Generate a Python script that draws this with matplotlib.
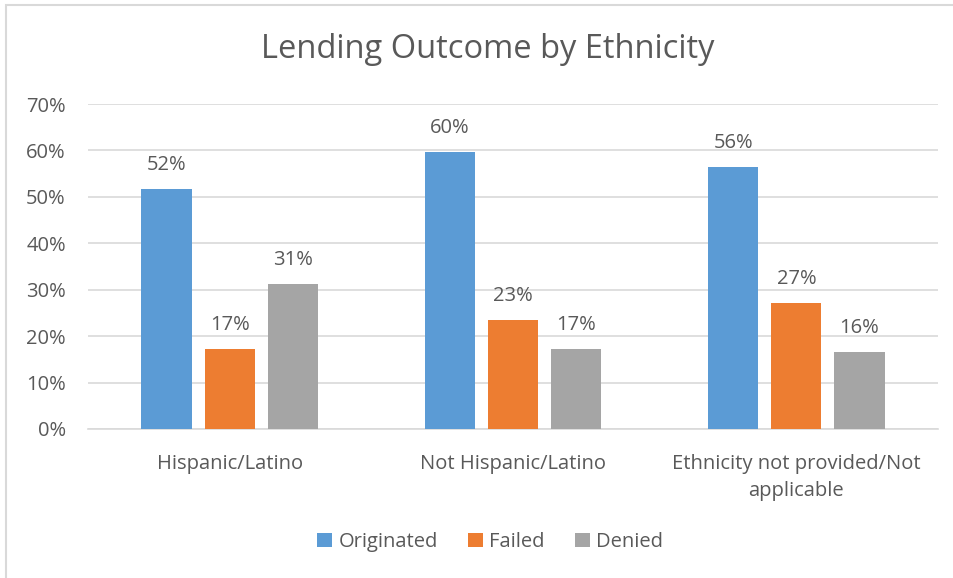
import matplotlib
matplotlib.use("Agg")

import numpy as np
import matplotlib.pyplot as plt
from matplotlib.patches import Rectangle

categories = ["Hispanic/Latino", "Not Hispanic/Latino",
              "Ethnicity not provided/Not\napplicable"]
series = ["Originated", "Failed", "Denied"]
originated = [51.7, 59.7, 56.4]
failed = [17.2, 23.4, 27.1]
denied = [31.2, 17.2, 16.6]
labels_orig = ["52%", "60%", "56%"]
labels_fail = ["17%", "23%", "27%"]
labels_deny = ["31%", "17%", "16%"]

colors = ["#5B9BD5", "#ED7D31", "#A5A5A5"]
text_col = "#595959"
fs = 14.5

plt.rcParams["font.family"] = ["Open Sans", "DejaVu Sans"]

fig = plt.figure(figsize=(9.54, 5.78), dpi=100)
# chart area border (only left/top visible in the original crop)
fig.patches.append(Rectangle((6 / 954, -0.1), 1.2, (1 - 5 / 578) + 0.1,
                             transform=fig.transFigure, fill=False,
                             edgecolor="#D9D9D9", linewidth=1.5))

ax = fig.add_axes([88 / 954, 1 - 429 / 578, (938 - 88) / 954, (429 - 104) / 578])

x = np.arange(len(categories))
w = 0.177
step = 0.223
for i, (vals, labs) in enumerate([(originated, labels_orig),
                                  (failed, labels_fail),
                                  (denied, labels_deny)]):
    bars = ax.bar(x + (i - 1) * step, vals, w, color=colors[i], label=series[i], zorder=3)
    for b, lab in zip(bars, labs):
        ax.text(b.get_x() + b.get_width() / 2, b.get_height() + 3.0, lab,
                ha="center", va="bottom", fontsize=fs, color=text_col)

ax.set_ylim(0, 70)
ax.set_xlim(-0.5, 2.5)
ax.set_yticks(range(0, 71, 10))
ax.set_yticklabels([f"{v}%" for v in range(0, 71, 10)])
ax.set_xticks(x)
ax.set_xticklabels(categories, linespacing=1.45)
ax.yaxis.grid(True, color="#D9D9D9", linewidth=1.2, zorder=0)
for s in ["top", "right", "left"]:
    ax.spines[s].set_visible(False)
ax.spines["bottom"].set_color("#D9D9D9")
ax.spines["bottom"].set_linewidth(1.2)
ax.tick_params(axis="both", length=0, labelsize=fs, colors=text_col)
ax.tick_params(axis="y", pad=16)
ax.tick_params(axis="x", pad=18)

fig.text(488 / 954, 1 - 50 / 578, "Lending Outcome by Ethnicity",
         ha="center", va="center", fontsize=23.5, color=text_col)

fig.legend(loc="center", bbox_to_anchor=(490 / 954, 1 - 542 / 578), ncol=3,
           frameon=False, fontsize=fs, labelcolor=text_col,
           handlelength=0.75, handleheight=0.75, handletextpad=0.3,
           columnspacing=1.5)

fig.savefig("out.png", dpi=100, facecolor="white")
